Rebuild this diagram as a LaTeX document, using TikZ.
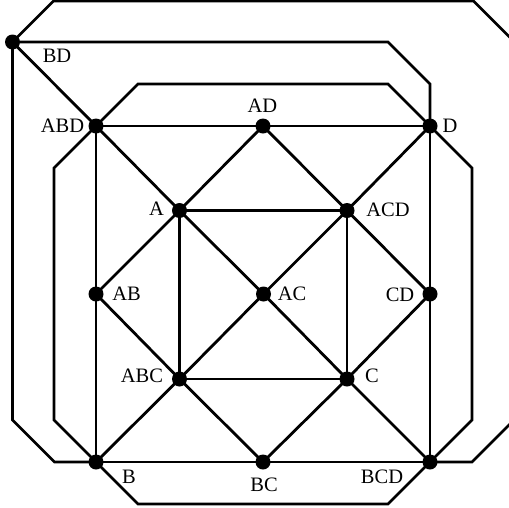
\documentclass[tikz,border=0pt]{standalone}
\usepackage{fontspec}
\setmainfont{Liberation Serif}
\usetikzlibrary{backgrounds}
\begin{document}
\begin{tikzpicture}[x=1pt,y=-1pt,
  dot/.style={circle,fill=black,inner sep=0pt,minimum size=15pt},
  lbl/.style={inner sep=0pt,font=\fontsize{20.5}{24}\selectfont},
  edge/.style={line width=2.8pt,line join=miter}]
\useasboundingbox (0,0) rectangle (509,507);
% vertices
\node[dot] (BD)  at (12.5,42) {};
\node[dot] (ABD) at (96,126) {};
\node[dot] (AD)  at (263,126) {};
\node[dot] (D)   at (430,126) {};
\node[dot] (A)   at (179.5,210.5) {};
\node[dot] (ACD) at (347,210.5) {};
\node[dot] (AB)  at (96,294) {};
\node[dot] (AC)  at (263.5,294) {};
\node[dot] (CD)  at (430,294) {};
\node[dot] (ABC) at (179.5,379) {};
\node[dot] (C)   at (347,379) {};
\node[dot] (B)   at (96,462) {};
\node[dot] (BC)  at (263,462) {};
\node[dot] (BCD) at (430,462) {};
% free ends of the wrap-around edges
\coordinate (topEnd) at (525,52.5);
\coordinate (botEnd) at (525,409);
% labels
\node[lbl] (lBD)  at (57,56) {BD};
\node[lbl] (lABD) at (62.5,126) {ABD};
\node[lbl] (lAD)  at (262.5,106) {AD};
\node[lbl] (lD)   at (450,126) {D};
\node[lbl] (lA)   at (156.5,209) {A};
\node[lbl] (lACD) at (388,210) {ACD};
\node[lbl] (lAB)  at (126.5,294) {AB};
\node[lbl] (lAC)  at (292,294) {AC};
\node[lbl] (lCD)  at (400,295) {CD};
\node[lbl] (lABC) at (142,376) {ABC};
\node[lbl] (lC)   at (372,376) {C};
\node[lbl] (lB)   at (129,477) {B};
\node[lbl] (lBC)  at (264,485) {BC};
\node[lbl] (lBCD) at (382,477) {BCD};
\begin{pgfonlayer}{background}
% outer square
\draw[edge] (ABD.center) -- (AD.center) -- (D.center) -- (CD.center) -- (BCD.center)
  -- (BC.center) -- (B.center) -- (AB.center) -- cycle;
% inner square
\draw[edge] (A.center) -- (ACD.center) -- (C.center) -- (ABC.center) -- cycle;
% diamond
\draw[edge] (AD.center) -- (ACD.center) -- (CD.center) -- (C.center) -- (BC.center)
  -- (ABC.center) -- (AB.center) -- (A.center) -- cycle;
% long diagonals
\draw[edge] (BD.center) -- (ABD.center) -- (A.center) -- (AC.center) -- (C.center) -- (BCD.center);
\draw[edge] (D.center) -- (ACD.center) -- (AC.center) -- (ABC.center) -- (B.center);
% second octagon
\draw[edge] (ABD.center) -- (138,84) -- (388,84) -- (D.center);
\draw[edge] (D.center) -- (472,168) -- (472,420) -- (BCD.center);
\draw[edge] (BCD.center) -- (388,504) -- (138,504) -- (B.center);
\draw[edge] (B.center) -- (54,420) -- (54,168) -- (ABD.center);
% outer edges from BD
\draw[edge] (BD.center) -- (388,42) -- (430,84) -- (D.center);
\draw[edge] (BD.center) -- (12.5,420) -- (54.5,462) -- (B.center);
\draw[edge] (BD.center) -- (53.5,1) -- (473.5,1) -- (topEnd);
\draw[edge] (BCD.center) -- (472,462) -- (botEnd);
\end{pgfonlayer}
\end{tikzpicture}
\end{document}
